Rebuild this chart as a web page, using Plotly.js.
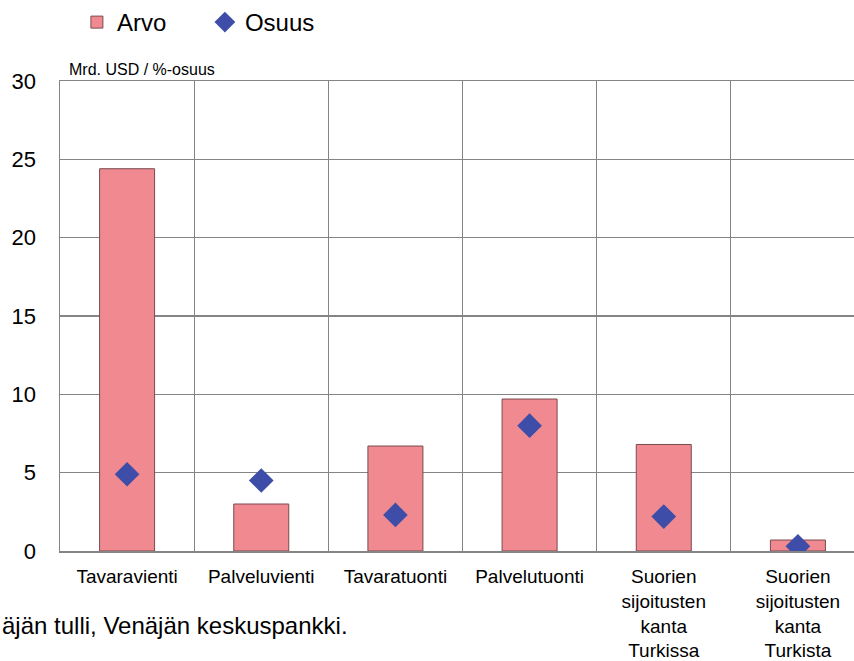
<!DOCTYPE html>
<html>
<head>
<meta charset="utf-8">
<script src="https://cdn.plot.ly/plotly-3.0.1.min.js"></script>
<style>
html,body{margin:0;padding:0;overflow:hidden;background:#fff;}
#chart{width:866px;height:661px;}
</style>
</head>
<body>
<div id="chart"></div>
<script>
var categories = ["Tavaravienti", "Palveluvienti", "Tavaratuonti", "Palvelutuonti",
  "Suorien<br>sijoitusten<br>kanta<br>Turkissa", "Suorien<br>sijoitusten<br>kanta<br>Turkista"];
var arvo = [24.4, 3.0, 6.7, 9.7, 6.8, 0.7];
var osuus = [4.9, 4.5, 2.3, 8.0, 2.2, 0.3];
var yTicks = [0, 5, 10, 15, 20, 25, 30];

var font = "Liberation Sans, Arial, sans-serif";

var traces = [
  {
    type: "bar", name: "Arvo", x: categories, y: arvo,
    marker: {color: "#f08a90", line: {color: "#7a4a50", width: 1}},
    width: 0.41
  },
  {
    type: "scatter", mode: "markers", name: "Osuus", x: categories, y: osuus,
    marker: {symbol: "diamond", size: 19, color: "#3e4ea8"}
  }
];

var layout = {
  width: 866, height: 661,
  margin: {l: 60, r: 1, t: 80, b: 110},
  paper_bgcolor: "#fff", plot_bgcolor: "#fff",
  font: {family: font, color: "#000"},
  showlegend: true,
  legend: {orientation: "h", x: 0.021, xanchor: "left", y: 1.123, yanchor: "middle",
    font: {size: 24, family: font}, itemwidth: 30, entrywidth: 83, entrywidthmode: "pixels",
    tracegroupgap: 0, bgcolor: "rgba(0,0,0,0)"},
  xaxis: {
    type: "category", tickson: "boundaries", showgrid: true, gridcolor: "#858585", gridwidth: 1.3,
    showline: true, linecolor: "#858585", linewidth: 1.5, mirror: true,
    ticks: "", tickfont: {size: 19, family: font}, ticklabelstandoff: 8,
    fixedrange: true
  },
  yaxis: {
    range: [0, 30], tickvals: yTicks, ticktext: yTicks.map(String),
    showgrid: true, gridcolor: "#858585", gridwidth: 1.3,
    showline: true, linecolor: "#858585", linewidth: 1.5, mirror: true,
    zeroline: false, ticks: "", tickfont: {size: 22, family: font},
    ticklabelstandoff: 18, fixedrange: true
  },
  annotations: [
    {text: "Mrd. USD / %-osuus", xref: "paper", yref: "paper",
      x: 0.009, xanchor: "left", y: 1.0, yanchor: "bottom", yshift: 1,
      showarrow: false, font: {size: 16, family: font}},
    {text: "äjän tulli, Venäjän keskuspankki.", xref: "paper", yref: "paper",
      x: -60/805, xanchor: "left", y: -75/471, yanchor: "middle",
      showarrow: false, font: {size: 24, family: font}}
  ]
};

Plotly.newPlot("chart", traces, layout, {displayModeBar: false, staticPlot: true});
</script>
</body>
</html>
